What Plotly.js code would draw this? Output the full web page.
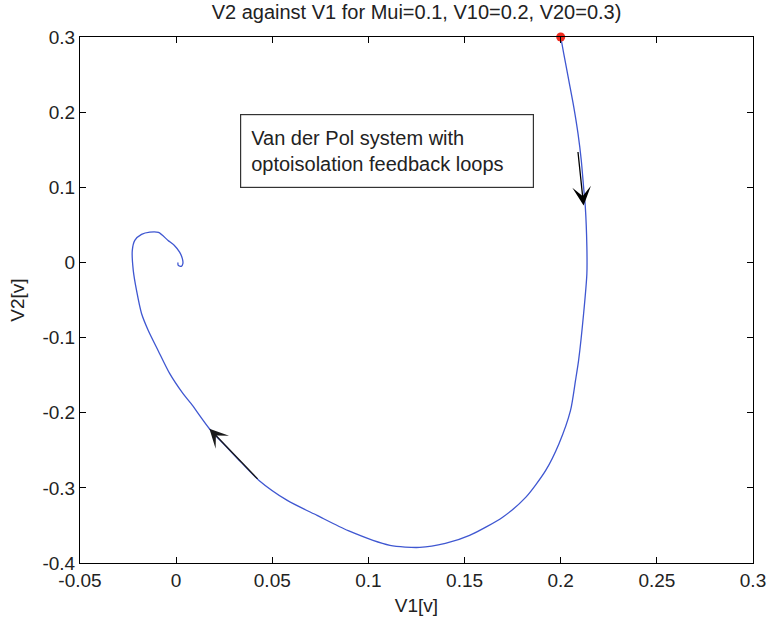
<!DOCTYPE html>
<html>
<head>
<meta charset="utf-8">
<script src="https://cdn.plot.ly/plotly-3.0.1.min.js"></script>
<style>
  html, body { margin: 0; padding: 0; background: #fff; }
  #chart { width: 768px; height: 626px; }
</style>
</head>
<body>
<div id="chart"></div>
<script>
// Phase-plane trajectory of the Van der Pol system (V1 horizontal, V2 vertical)
const v1 = [0.2000, 0.2016, 0.2042, 0.2068, 0.2090, 0.2107, 0.2119, 0.2128, 0.2136, 0.2136,
            0.2119, 0.2093, 0.2077, 0.2051, 0.1991, 0.1922, 0.1819, 0.1698, 0.1526, 0.1400,
            0.1267, 0.1112, 0.0895, 0.0733, 0.0578, 0.0431, 0.0337, 0.0255, 0.0173, 0.0078,
            0.0035, -0.0034, -0.0094, -0.0145, -0.0180, -0.0206, -0.0223, -0.0228, -0.0215, -0.0180,
            -0.0137, -0.0092, -0.0042, -0.0009, 0.0018, 0.0032, 0.0035, 0.0027, 0.0011, 0.0009];
const v2 = [0.3000, 0.2777, 0.2422, 0.2067, 0.1713, 0.1357, 0.1002, 0.0736, 0.0204, -0.0150,
            -0.0683, -0.1304, -0.1570, -0.1970, -0.2413, -0.2768, -0.3124, -0.3390, -0.3633, -0.3740,
            -0.3793, -0.3766, -0.3570, -0.3367, -0.3167, -0.2901, -0.2658, -0.2436, -0.2213, -0.1880,
            -0.1743, -0.1477, -0.1171, -0.0905, -0.0679, -0.0373, -0.0106, 0.0160, 0.0293, 0.0373,
            0.0403, 0.0399, 0.0293, 0.0226, 0.0137, 0.0053, -0.0017, -0.0053, -0.0040, 0.0000];

// Initial condition (V10, V20)
const startV1 = [0.2];
const startV2 = [0.3];

// Axis ticks
const xTickVals = [-0.05, 0, 0.05, 0.1, 0.15, 0.2, 0.25, 0.3];
const xTickText = ['-0.05', '0', '0.05', '0.1', '0.15', '0.2', '0.25', '0.3'];
const yTickVals = [-0.4, -0.3, -0.2, -0.1, 0, 0.1, 0.2, 0.3];
const yTickText = ['-0.4', '-0.3', '-0.2', '-0.1', '0', '0.1', '0.2', '0.3'];

// Direction arrows along the trajectory: [tailV1, tailV2, headV1, headV2]
const arrowDown = [0.2089, 0.149, 0.2119, 0.0759];
const arrowBack = [0.0431, -0.2901, 0.0173, -0.2213];

const FONT = 'Liberation Sans, Arial, Helvetica, sans-serif';
const TEXT = '#222222';

const traces = [
  {
    x: v1, y: v2, type: 'scatter', mode: 'lines',
    line: { color: '#3f57d1', width: 1.3, shape: 'spline', smoothing: 0.7 },
    hoverinfo: 'skip', showlegend: false
  },
  {
    x: startV1, y: startV2, type: 'scatter', mode: 'markers',
    marker: { color: '#f02a1e', size: 9 },
    cliponaxis: false, hoverinfo: 'skip', showlegend: false
  }
];

function arrow(a, color) {
  return {
    x: a[2], y: a[3], ax: a[0], ay: a[1],
    xref: 'x', yref: 'y', axref: 'x', ayref: 'y',
    text: '', showarrow: true,
    arrowhead: 3, arrowsize: 2.4, arrowwidth: 1.3,
    arrowcolor: color, standoff: 0, startstandoff: 0
  };
}

const axisCommon = {
  showline: true, linecolor: '#000', linewidth: 1,
  mirror: 'ticks', ticks: 'inside', ticklen: 6, tickwidth: 1, tickcolor: '#000',
  showgrid: false, zeroline: false,
  tickfont: { family: FONT, size: 19, color: TEXT },
  ticklabeloverflow: 'allow',
  tickmode: 'array'
};

const layout = {
  width: 768, height: 626,
  margin: { l: 80, r: 15, t: 37, b: 63 },
  paper_bgcolor: '#fff', plot_bgcolor: '#fff',
  title: {
    text: 'V2 against V1 for Mui=0.1, V10=0.2, V20=0.3)',
    font: { family: FONT, size: 20, color: TEXT },
    x: 0.5, xref: 'paper', y: 0.981, yref: 'container', yanchor: 'middle'
  },
  xaxis: Object.assign({}, axisCommon, {
    range: [-0.05, 0.3], tickvals: xTickVals, ticktext: xTickText,
    title: { text: 'V1[v]', font: { family: FONT, size: 19, color: TEXT }, standoff: 8 }
  }),
  yaxis: Object.assign({}, axisCommon, {
    range: [-0.4, 0.3], tickvals: yTickVals, ticktext: yTickText,
    title: { text: 'V2[v]', font: { family: FONT, size: 19, color: TEXT }, standoff: 12 }
  }),
  annotations: [
    arrow(arrowDown, '#000'),
    arrow(arrowBack, '#1a1a1a'),
    {
      x: 0.1098, y: 0.1477, xref: 'x', yref: 'y',
      text: 'Van der Pol system with<br>optoisolation feedback loops',
      showarrow: false, align: 'left', valign: 'middle',
      width: 272, height: 52, borderpad: 10,
      bordercolor: '#333', borderwidth: 1.2, bgcolor: '#fff',
      font: { family: FONT, size: 20, color: TEXT }
    }
  ]
};

Plotly.newPlot('chart', traces, layout, { staticPlot: true, displayModeBar: false });
</script>
</body>
</html>
